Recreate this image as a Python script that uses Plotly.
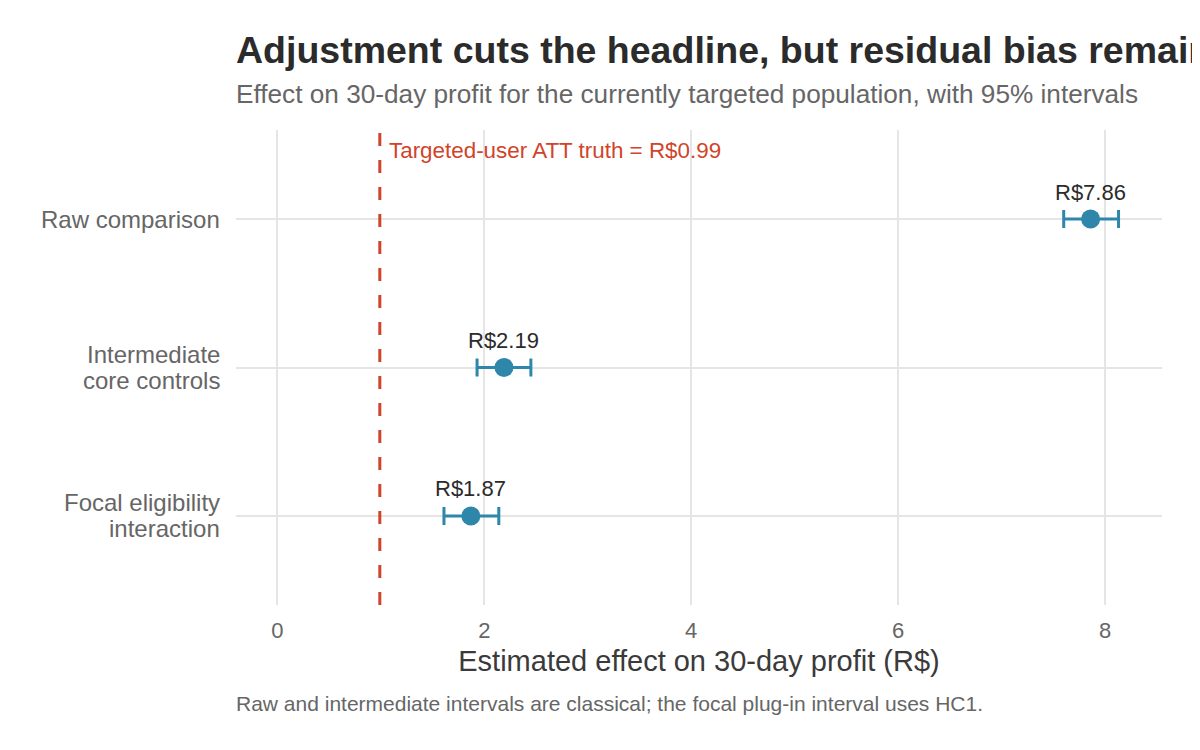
import plotly.graph_objects as go

# estimates
models = ["Raw comparison", "Intermediate<br>core controls", "Focal eligibility<br>interaction"]
estimate = [7.86, 2.19, 1.87]
ci_low = [7.60, 1.93, 1.61]
ci_high = [8.13, 2.45, 2.14]
truth = 0.99

xticks = [0, 2, 4, 6, 8]

POINT = "#2E86AB"
RED = "#D0442A"
FONT = "Liberation Sans"

ypos = [3, 2, 1]  # top to bottom like ggplot's reversed discrete axis

# the page puts the figure 8px in from the corner, so size it to fit the window
W, H = 1192, 742

fig = go.Figure()
fig.add_trace(go.Scatter(
    x=estimate, y=ypos, mode="markers",
    marker=dict(color=POINT, size=19),
    error_x=dict(type="data", symmetric=False,
                 array=[h - e for h, e in zip(ci_high, estimate)],
                 arrayminus=[e - l for e, l in zip(estimate, ci_low)],
                 color=POINT, thickness=3, width=9),
    showlegend=False, hoverinfo="skip"))

# value labels above points
for x, y in zip(estimate, ypos):
    fig.add_annotation(x=x, y=y, text=f"R${x:.2f}", showarrow=False,
                       yshift=27, font=dict(family=FONT, size=22, color="#2b2b2b"))

# y labels as annotations so the two-line ones can sit tighter than plotly's line height
for label, y in zip(models, ypos):
    lines = label.split("<br>")
    for i, line in enumerate(lines):
        off = (len(lines) - 1) / 2 - i
        fig.add_annotation(x=0, xref="paper", y=y, yref="y", xanchor="right", yanchor="middle",
                           text=line, showarrow=False, xshift=-14, yshift=off * 26,
                           font=dict(family=FONT, size=24, color="#666666"))

# truth line
fig.add_shape(type="line", x0=truth, x1=truth, xref="x", y0=0, y1=1, yref="paper",
              line=dict(color=RED, width=3, dash="13px,14px"), layer="above")
fig.add_annotation(x=truth, xref="x", y=3.465, yref="y", xanchor="left",
                   text=f"Targeted-user ATT truth = R${truth:.2f}", showarrow=False,
                   xshift=7, font=dict(family=FONT, size=22.4, color=RED))

fig.update_layout(
    width=W, height=H,
    plot_bgcolor="white", paper_bgcolor="white",
    margin=dict(l=228, r=38, t=122, b=145),
    title=dict(text="<b>Adjustment cuts the headline, but residual bias remains</b>",
               x=228 / W, xanchor="left", y=1 - 42 / H, yanchor="middle",
               font=dict(family=FONT, size=37.5, color="#2b2b2b")),
    font=dict(family=FONT),
)
fig.add_annotation(text="Effect on 30-day profit for the currently targeted population, with 95% intervals",
                   xref="paper", yref="paper", x=0, y=1, yshift=36, xanchor="left", yanchor="middle",
                   xshift=-2, showarrow=False, font=dict(family=FONT, size=26.2, color="#666666"))
fig.add_annotation(text="Raw and intermediate intervals are classical; the focal plug-in interval uses HC1.",
                   xref="paper", yref="paper", x=0, y=0, yshift=-98, xanchor="left", yanchor="middle",
                   xshift=-2, showarrow=False, font=dict(family=FONT, size=21, color="#666666"))

fig.update_xaxes(range=[-0.4, 8.55], tickvals=xticks, ticktext=[str(t) for t in xticks],
                 showgrid=True, gridcolor="#E5E5E5", gridwidth=2, zeroline=False,
                 tickfont=dict(family=FONT, size=22, color="#666666"),
                 ticks="outside", ticklen=6, tickcolor="rgba(0,0,0,0)",
                 title=dict(text="Estimated effect on 30-day profit (R$)",
                            font=dict(family=FONT, size=29, color="#3a3a3a"), standoff=8),
                 showline=False)
fig.update_yaxes(range=[0.4, 3.6], tickvals=ypos, showticklabels=False,
                 showgrid=True, gridcolor="#E5E5E5", gridwidth=2, zeroline=False,
                 ticks="", showline=False)

fig.write_html("out.html")
